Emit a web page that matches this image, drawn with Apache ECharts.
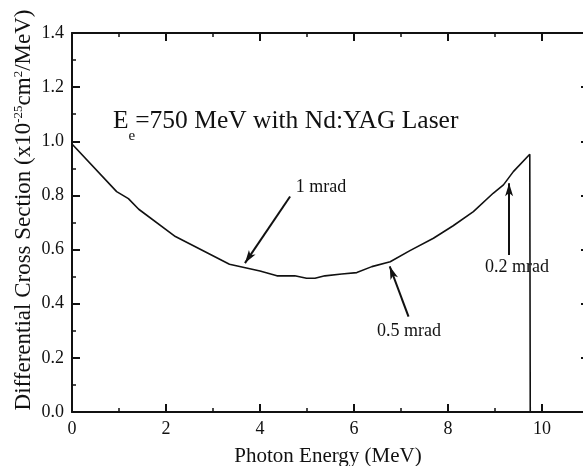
<!DOCTYPE html>
<html>
<head>
<meta charset="utf-8">
<script src="https://cdn.jsdelivr.net/npm/echarts@6/dist/echarts.min.js"></script>
<style>
  html, body { margin: 0; padding: 0; background: #fff; }
  #chart { width: 583px; height: 466px; }
</style>
</head>
<body>
<div id="chart"></div>
<script>
// Photon energy (MeV) and differential cross section (x10^-25 cm^2/MeV)
const energy = [0, 0.95, 1.2, 1.42, 2.2, 3.35, 4.0, 4.36, 4.74, 4.99, 5.17, 5.38, 5.74, 6.06, 6.38,
  6.77, 7.19, 7.69, 8.11, 8.54, 8.96, 9.18, 9.39, 9.74, 9.75];
const crossSection = [0.99, 0.814, 0.788, 0.749, 0.648, 0.546, 0.521, 0.503, 0.503, 0.494, 0.494, 0.503,
  0.510, 0.515, 0.537, 0.555, 0.596, 0.642, 0.688, 0.740, 0.808, 0.839, 0.888, 0.952, 0.0];

// Collimation-angle annotations: arrow start, arrow tip, label position
const angleLabels = ['1 mrad', '0.5 mrad', '0.2 mrad'];
const arrowFrom = [[4.64, 0.796], [7.16, 0.352], [9.30, 0.580]];
const arrowTo = [[3.68, 0.550], [6.76, 0.538], [9.30, 0.845]];
const labelAt = [[5.30, 0.831], [7.17, 0.297], [9.47, 0.535]];

const xTicks = { min: 0, max: 11, interval: 2 };
const yTicks = { min: 0, max: 1.4, interval: 0.2 };

const FONT = '"Liberation Serif", "DejaVu Serif", serif';
const INK = '#111';

const chart = echarts.init(document.getElementById('chart'), null, { renderer: 'canvas' });

function frameAxis(extra) {
  return Object.assign({
    axisLine: { show: true, onZero: false, lineStyle: { color: INK, width: 2 } },
    axisTick: { show: true, inside: true, length: 8, lineStyle: { color: INK, width: 2 } },
    minorTick: { show: true, splitNumber: 2, length: 4, lineStyle: { color: INK, width: 1.5 } },
    splitLine: { show: false },
    minorSplitLine: { show: false }
  }, extra);
}

const option = {
  animation: false,
  backgroundColor: '#fff',
  grid: { left: 72, top: 33, width: 517, height: 379, containLabel: false, outerBoundsMode: 'none' },
  xAxis: [
    frameAxis({
      type: 'value', position: 'bottom', min: xTicks.min, max: xTicks.max, interval: xTicks.interval,
      axisLabel: {
        show: true, margin: 8, color: INK, fontFamily: FONT, fontSize: 18,
        formatter: v => (v > 10 ? '' : String(v))
      }
    }),
    frameAxis({
      type: 'value', position: 'top', min: xTicks.min, max: xTicks.max, interval: xTicks.interval,
      axisLabel: { show: false }
    })
  ],
  yAxis: [
    frameAxis({
      type: 'value', position: 'left', min: yTicks.min, max: yTicks.max, interval: yTicks.interval,
      axisLabel: {
        show: true, margin: 8, color: INK, fontFamily: FONT, fontSize: 18,
        formatter: v => v.toFixed(1)
      }
    }),
    frameAxis({
      type: 'value', position: 'right', min: yTicks.min, max: yTicks.max, interval: yTicks.interval,
      axisLabel: { show: false }
    })
  ],
  graphic: [
    {
      type: 'text', x: 24, y: 210, rotation: Math.PI / 2,
      style: {
        text: 'Differential Cross Section (x10{sup|-25}cm{sup|2}/MeV)',
        align: 'center', verticalAlign: 'middle',
        fontFamily: FONT, fontSize: 23, fill: INK,
        rich: {
          sup: { fontFamily: FONT, fontSize: 13, verticalAlign: 'top', lineHeight: 23, fill: INK }
        }
      }
    },
    {
      type: 'text', x: 328, y: 456,
      style: {
        text: 'Photon Energy (MeV)', align: 'center', verticalAlign: 'middle',
        fontFamily: FONT, fontSize: 21, fill: INK
      }
    },
    {
      type: 'text', x: 113, y: 121,
      style: {
        text: '{m|E}{sub|e}{m|=750 MeV with Nd:YAG Laser}', align: 'left', verticalAlign: 'middle',
        fontFamily: FONT, fontSize: 25.5, fill: INK,
        rich: {
          m: { fontFamily: FONT, fontSize: 25.5, verticalAlign: 'top', lineHeight: 26, fill: INK },
          sub: { fontFamily: FONT, fontSize: 15, verticalAlign: 'top', lineHeight: 14, padding: [21, 0, 0, 0], fill: INK }
        }
      }
    }
  ],
  series: [
    {
      name: 'cross section',
      type: 'line',
      data: energy.map((e, i) => [e, crossSection[i]]),
      showSymbol: false,
      symbol: 'none',
      lineStyle: { color: INK, width: 1.6 },
      markLine: {
        silent: true,
        symbol: ['none', 'arrow'],
        symbolSize: [6, 13],
        lineStyle: { color: INK, width: 2, type: 'solid' },
        label: { show: false },
        data: arrowFrom.map((p, i) => [{ coord: p }, { coord: arrowTo[i] }])
      },
      z: 3
    },
    {
      name: 'angle labels',
      type: 'scatter',
      symbolSize: 0,
      itemStyle: { opacity: 1 },
      data: labelAt.map((p, i) => ({ value: p, name: angleLabels[i] })),
      label: {
        show: true, position: 'inside', formatter: '{b}', opacity: 1,
        color: INK, fontFamily: FONT, fontSize: 18
      },
      z: 4
    }
  ]
};

chart.setOption(option);
</script>
</body>
</html>
